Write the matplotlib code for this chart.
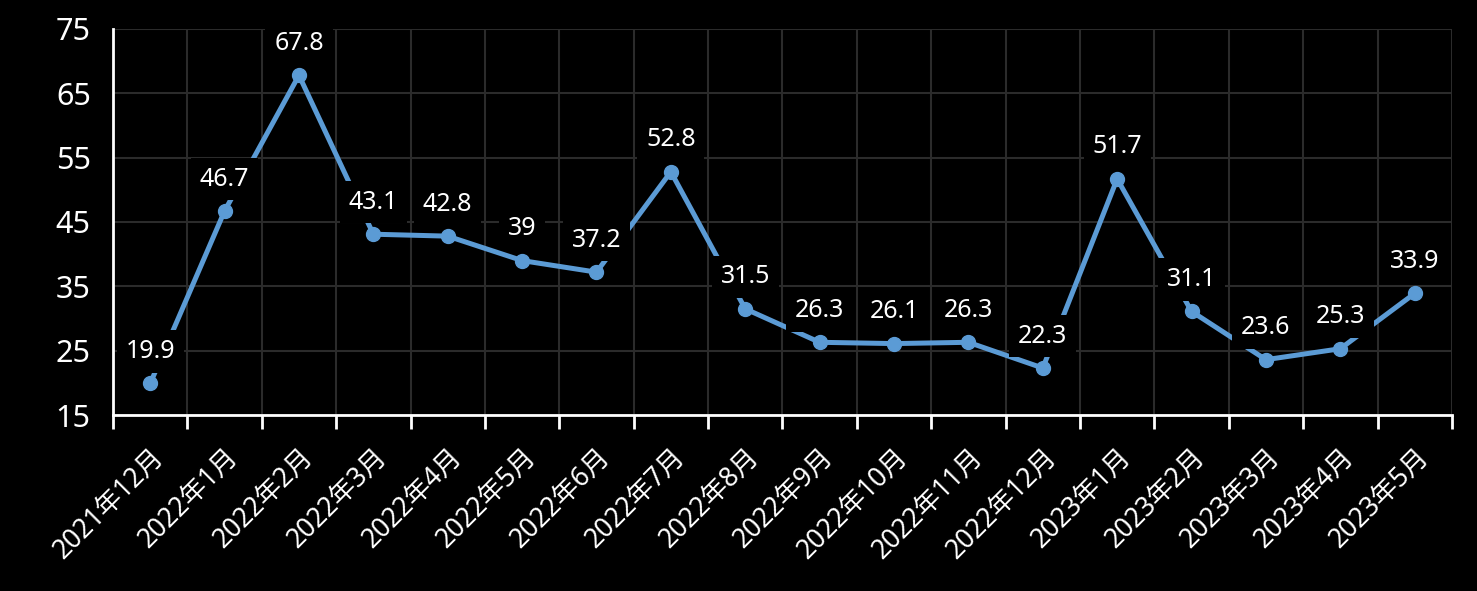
import matplotlib

matplotlib.use("Agg")

import matplotlib.pyplot as plt
import numpy as np

months = [
    "2021年12月", "2022年1月", "2022年2月", "2022年3月", "2022年4月", "2022年5月",
    "2022年6月", "2022年7月", "2022年8月", "2022年9月", "2022年10月", "2022年11月",
    "2022年12月", "2023年1月", "2023年2月", "2023年3月", "2023年4月", "2023年5月",
]
values = [19.9, 46.7, 67.8, 43.1, 42.8, 39, 37.2, 52.8, 31.5, 26.3, 26.1, 26.3,
          22.3, 51.7, 31.1, 23.6, 25.3, 33.9]
y_ticks = [15, 25, 35, 45, 55, 65, 75]

plt.rcParams["font.family"] = ["Noto Sans", "Noto Sans CJK SC", "DejaVu Sans"]

LINE = "#5B9BD5"
GRID = "#2b2b2b"

fig = plt.figure(figsize=(14.77, 5.91), dpi=100, facecolor="black")
ax = fig.add_axes([0.0765, 0.2978, 0.9065, 0.6532], facecolor="black")

x = np.arange(len(months))
ax.plot(x, values, color=LINE, linewidth=3.6, marker="o", markersize=10,
        zorder=3, clip_on=False)

for xi, v in zip(x, values):
    ax.annotate(f"{v:g}", (xi, v), xytext=(0, 32), textcoords="offset pixels",
                ha="center", va="center", color="white", fontsize=18,
                bbox=dict(boxstyle="square,pad=0.35", facecolor="black", edgecolor="none"),
                zorder=4)

ax.set_xlim(-0.5, len(months) - 0.5)
ax.set_ylim(15, 75)
ax.set_yticks(y_ticks)
ax.set_xticks(x)
ax.set_xticklabels(months, rotation=45, ha="right", va="top", rotation_mode="anchor")
ax.set_xticks(np.arange(-0.5, len(months), 1.0), minor=True)

ax.tick_params(axis="x", which="major", length=0, pad=20, colors="white", labelsize=19)
ax.tick_params(axis="x", which="minor", length=10, width=2, color="white")
ax.tick_params(axis="y", length=0, pad=16, colors="white", labelsize=22)

ax.grid(True, axis="y", which="major", color=GRID, linewidth=1.5)
ax.grid(True, axis="x", which="minor", color=GRID, linewidth=1.5)
ax.set_axisbelow(True)

for side in ("top", "right"):
    ax.spines[side].set_visible(False)
for side in ("left", "bottom"):
    ax.spines[side].set_color("white")
    ax.spines[side].set_linewidth(2)

fig.savefig("out.png", dpi=100, facecolor="black")
